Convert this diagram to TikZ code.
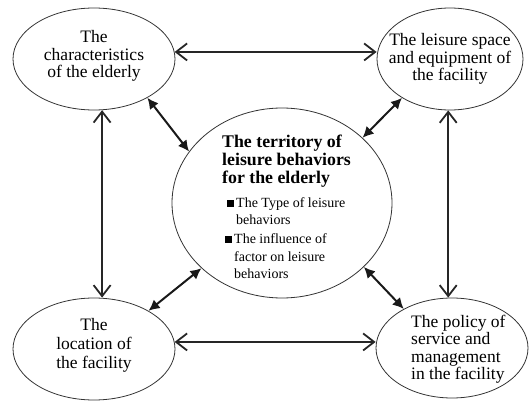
\documentclass[tikz,border=0pt]{standalone}
\usepackage{fontspec}
\setmainfont{Liberation Serif}
\usetikzlibrary{shapes.geometric,arrows.meta}
\begin{document}
\begin{tikzpicture}[x=1pt,y=-1pt,
  oval/.style={draw=black!80,line width=0.8pt,ellipse,inner sep=0pt},
  corner/.style={align=center,inner sep=0pt,font=\fontsize{17.5}{17.5}\selectfont},
  openarr/.style={line width=1.8pt,draw=black!85,{Straight Barb[length=11pt,width=17pt,line width=1.8pt]}-{Straight Barb[length=11pt,width=17pt,line width=1.8pt]}},
  fillarr/.style={line width=2pt,draw=black!90,{Latex[length=11pt,width=11pt]}-{Latex[length=11pt,width=11pt]}},
  bul/.style={fill=black,inner sep=0pt,minimum size=7pt}
]
\useasboundingbox (0,0) rectangle (530,401);
% ellipses
\node[oval,minimum width=162pt,minimum height=102pt] (tl) at (94,59) {};
\node[oval,minimum width=146pt,minimum height=102pt] (tr) at (450,59) {};
\node[oval,minimum width=162pt,minimum height=102pt] (bl) at (94,349) {};
\node[oval,minimum width=152pt,minimum height=100pt] (br) at (452,348) {};
\node[oval,minimum width=220pt,minimum height=190pt] (c) at (282,203) {};
% texts
\node[corner] (tltext) at (94,56) {The\\characteristics\\of the elderly};
\node[corner] (trtext) at (450,59) {The leisure space\\and equipment of\\the facility};
\node[corner,font=\fontsize{17.5}{19}\selectfont] (bltext) at (94,345) {The\\location of\\the facility};
\node[corner,align=left,anchor=west] (brtext) at (411,349) {The policy of\\service and\\management\\in the facility};
\node[align=left,anchor=west,inner sep=0pt,font=\fontsize{17.8}{18}\selectfont\bfseries] (title) at (222,161) {The territory of\\leisure behaviors\\for the elderly};
\node[bul] (sq1) at (230.5,203) {};
\node[bul] (sq2) at (228.5,239) {};
\node[align=left,anchor=west,inner sep=0pt,font=\fontsize{14}{17}\selectfont] (b1) at (236,211) {The Type of leisure\\behaviors};
\node[align=left,anchor=west,inner sep=0pt,font=\fontsize{14}{17.5}\selectfont] (b2) at (234,256.5) {The influence of\\factor on leisure\\behaviors};
% open arrows
\draw[openarr] (tl.5) -- (tl.5 -| tr.west);
\draw[openarr] (bl.5) -- (bl.5 -| br.west);
\draw[openarr] (tl.-81) -- (tl.-81 |- bl.north);
\draw[openarr] (tr.-92) -- (tr.-92 |- br.north);
% filled arrows
\draw[fillarr] (tl.-36) -- (c.151.5);
\draw[fillarr] (tr.-141) -- (c.39);
\draw[fillarr] (bl.35) -- (c.219.4);
\draw[fillarr] (br.141) -- (c.-38.7);
\end{tikzpicture}
\end{document}
